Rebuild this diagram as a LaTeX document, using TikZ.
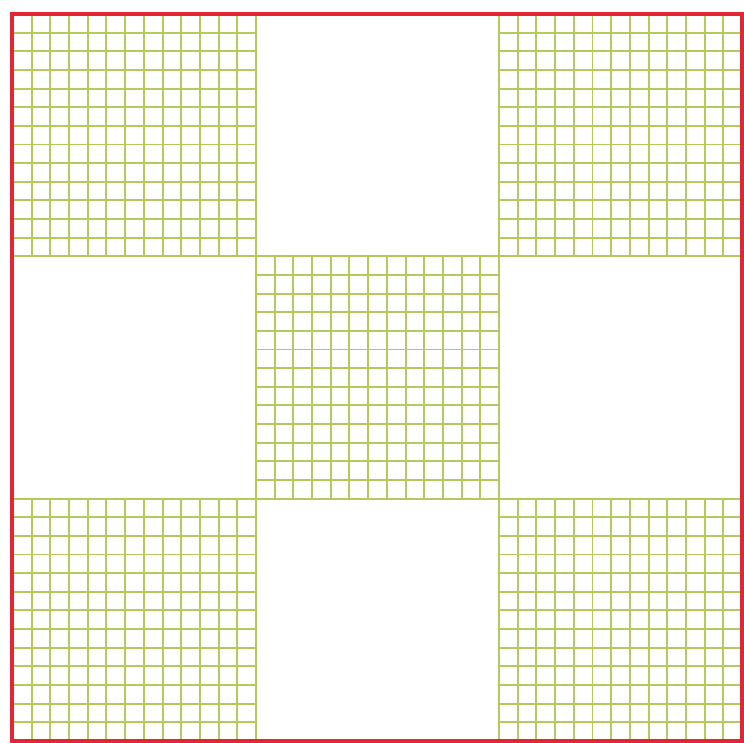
\documentclass[tikz,border=0pt]{standalone}
\usepackage{tikz}
\definecolor{gridgreen}{RGB}{180,202,92}
\definecolor{framered}{RGB}{228,38,52}

\begin{document}
\begin{tikzpicture}[x=0.02cm, y=-0.02cm,
    gridline/.style={gridgreen, line width=1.1pt},
    outline/.style={framered, line width=1.8pt}]
  \useasboundingbox (0,0) rectangle (744,743);
  % the five ruled blocks: four corners and the middle
  \foreach \bx/\by in {0/0, 2/0, 1/1, 0/2, 2/2} {
    \foreach \k in {0,...,13} {
      \draw[gridline] (13+243*\bx+243*\k/13, 14+242.3*\by) -- ++(0,242.3);
      \draw[gridline] (13+243*\bx, 14+242.3*\by+242.3*\k/13) -- ++(243,0);
    }
  }
  \draw[outline] (12,14) rectangle (742,741);
\end{tikzpicture}
\end{document}
